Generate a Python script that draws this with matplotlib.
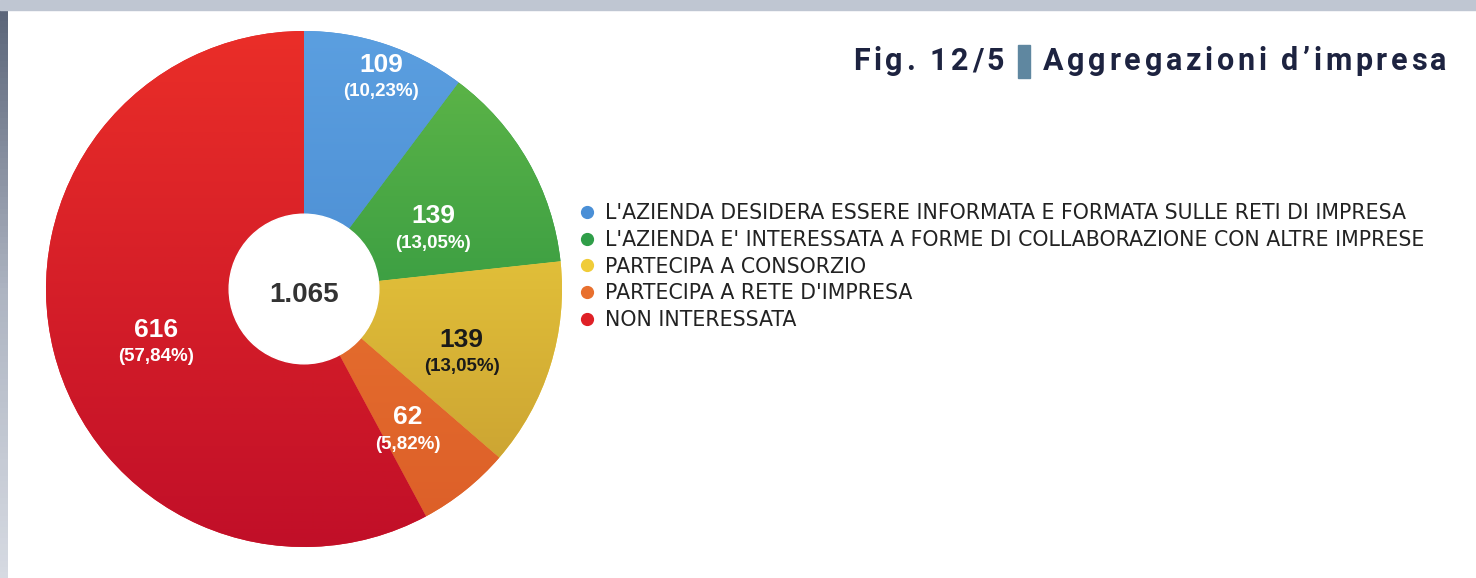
import numpy as np
import matplotlib
matplotlib.use("Agg")
import matplotlib.pyplot as plt
from matplotlib.colors import LinearSegmentedColormap
from matplotlib.lines import Line2D
from matplotlib.patches import Rectangle

# Dati
categorie = [
    "L'AZIENDA DESIDERA ESSERE INFORMATA E FORMATA SULLE RETI DI IMPRESA",
    "L'AZIENDA E' INTERESSATA A FORME DI COLLABORAZIONE CON ALTRE IMPRESE",
    "PARTECIPA A CONSORZIO",
    "PARTECIPA A RETE D'IMPRESA",
    "NON INTERESSATA",
]
valori = [109, 139, 139, 62, 616]

# Stile
colori = ["#4a8fd6", "#2f9e48", "#f0cc38", "#e8702e", "#df2026"]
gradienti = [
    ("#3f7fc8", "#5b9fe0"),
    ("#17863e", "#62b848"),
    ("#c49a30", "#f8dc40"),
    ("#dc5e28", "#ee7e34"),
    ("#c10f28", "#ea2e28"),
]
colori_testo = ["white", "white", "#1a1a1a", "white", "white"]
dist_etichette = [0.87, 0.55, 0.66, 0.68, 0.61]
sposta_angolo = [-1.6, -5, -4.9, -2.6, 6.1]

W, H = 1476, 578
fig = plt.figure(figsize=(W / 100, H / 100), dpi=100)
fig.patch.set_facecolor("white")

# cornice grigia (bordo superiore e sinistro)
fig.patches.append(Rectangle((0, 1 - 10 / H), 1, 10 / H, transform=fig.transFigure,
                             color="#bfc6d2", zorder=0))
bordo = fig.add_axes([0, 0, 8 / W, 1 - 10 / H])
bordo.imshow(np.linspace(0, 1, 100).reshape(-1, 1), aspect="auto",
             cmap=LinearSegmentedColormap.from_list("b", ["#5c667a", "#aeb5c2", "#d6dae2"]))
bordo.axis("off")

# Grafico a ciambella
cx, cy, r = 304, 289, 258
ax = fig.add_axes([(cx - r) / W, (H - cy - r) / H, 2 * r / W, 2 * r / H])
wedges, _ = ax.pie(valori, colors=colori, startangle=90, counterclock=False,
                   radius=1, wedgeprops=dict(linewidth=0))
grad = np.linspace(0, 1, 256).reshape(-1, 1)
for w, (c0, c1) in zip(wedges, gradienti):
    cmap = LinearSegmentedColormap.from_list("g", [c0, c1])
    im = ax.imshow(grad, extent=[-1, 1, -1, 1], origin="lower", cmap=cmap, zorder=1.5)
    im.set_clip_path(w)
ax.add_patch(plt.Circle((0, 0), 0.29, color="white", zorder=3))
ax.set_xlim(-1, 1)
ax.set_ylim(-1, 1)
ax.set_aspect("auto")
ax.axis("off")

totale = sum(valori)
ax.text(0, -0.025, f"{totale:,}".replace(",", "."), ha="center", va="center",
        fontsize=20, fontweight="bold", color="#333333", family="Liberation Sans", zorder=4)

for w, v, d, da, tc in zip(wedges, valori, dist_etichette, sposta_angolo, colori_testo):
    ang = np.deg2rad((w.theta1 + w.theta2) / 2 + da)
    x, y = d * np.cos(ang), d * np.sin(ang)
    perc = f"({v / totale * 100:.2f}%)".replace(".", ",")
    ax.text(x, y + 0.052, str(v), ha="center", va="center", fontsize=19,
            fontweight="bold", color=tc, family="Liberation Sans", zorder=4)
    ax.text(x, y - 0.052, perc, ha="center", va="center", fontsize=13.5,
            fontweight="bold", color=tc, family="Liberation Sans", zorder=4)


# Titolo con spaziatura tra le lettere
renderer = fig.canvas.get_renderer()


def testo_spaziato(x0, y, s, track, **kw):
    for i, ch in enumerate(s):
        if ch == " ":
            continue
        t = fig.text(0, 0, s[:i] if i else "", **kw)
        larg = t.get_window_extent(renderer).width if i else 0
        t.remove()
        fig.text((x0 + larg + i * track) / W, y, ch, ha="left", va="center", **kw)


stile_titolo = dict(fontsize=22, fontweight="bold", color="#1d2340", family="Roboto")
testo_spaziato(853, 1 - 61 / H, "Fig. 12/5", 3.6, **stile_titolo)
fig.patches.append(Rectangle((1018 / W, 1 - 78 / H), 12 / W, 33 / H,
                             transform=fig.transFigure, color="#5f87a0"))
testo_spaziato(1043, 1 - 61 / H, "Aggregazioni d\u2019impresa", 3.7, **stile_titolo)

# Legenda
handles = [Line2D([], [], marker="o", linestyle="none", markersize=8.5,
                  markerfacecolor=c, markeredgecolor=c) for c in colori]
fig.legend(handles, categorie, loc="upper left", bbox_to_anchor=(580 / W, 1 - 203 / H),
           frameon=False, prop=dict(family="DejaVu Sans", size=14.8),
           labelcolor="#222222", handlelength=0.7, handletextpad=0.5,
           labelspacing=0.33, borderpad=0, borderaxespad=0)

fig.savefig("out.png", dpi=100)
